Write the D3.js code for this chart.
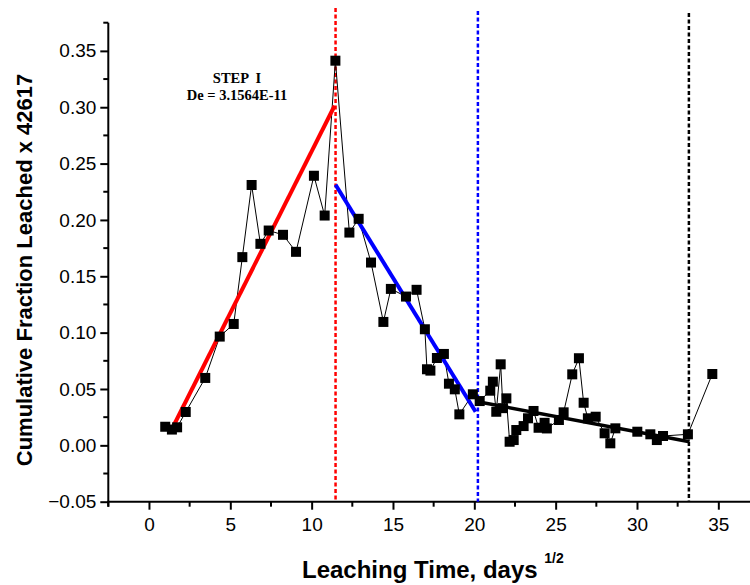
<!DOCTYPE html>
<html>
<head>
<meta charset="utf-8">
<script src="https://cdn.jsdelivr.net/npm/d3@7/dist/d3.min.js"></script>
<style>
  body { margin: 0; background: #fff; }
  svg { display: block; }
  .tick text { font-family: Arial, "Liberation Sans", sans-serif; }
</style>
</head>
<body>
<svg id="chart" width="750" height="585"></svg>
<script>
// leaching time (days^1/2) and cumulative fraction leached
const leachTime = [1.0, 1.41, 1.73, 2.26, 3.46, 4.35, 5.21, 5.74, 6.31, 6.85, 7.36, 8.24, 9.04,
  10.14, 10.8, 11.46, 12.32, 12.89, 13.65, 14.41, 14.87, 15.8, 16.45, 16.96, 17.09, 17.3, 17.7,
  18.13, 18.44, 18.8, 19.08, 19.91, 20.33, 20.98, 21.14, 21.35, 21.62, 21.76, 21.97, 22.17, 22.42,
  22.58, 23.03, 23.3, 23.64, 23.95, 24.32, 24.46, 25.2, 25.49, 26.02, 26.43, 26.72, 26.98, 27.46,
  28.01, 28.36, 28.67, 30.02, 30.82, 31.22, 31.6, 33.13, 34.63];
const fracLeached = [0.0165, 0.014, 0.016, 0.0296, 0.0598, 0.0965, 0.1077, 0.167, 0.231, 0.1788,
  0.1906, 0.1868, 0.1717, 0.2392, 0.2039, 0.3413, 0.1888, 0.201, 0.1622, 0.1095, 0.1388, 0.132,
  0.138, 0.103, 0.0675, 0.0663, 0.0775, 0.0811, 0.0547, 0.0497, 0.0275, 0.0453, 0.0393, 0.0485,
  0.0565, 0.0298, 0.0719, 0.033, 0.0417, 0.0032, 0.0047, 0.0136, 0.0171, 0.024, 0.0305, 0.0156,
  0.02, 0.015, 0.0225, 0.0293, 0.063, 0.0773, 0.0378, 0.024, 0.0254, 0.0107, 0.0018, 0.0151,
  0.0121, 0.0098, 0.0047, 0.0083, 0.0098, 0.0633];

// linear fits for each step: [x0, y0, x1, y1]
const fitStep1 = [1.38, 0.0136, 11.41, 0.3013];
const fitStep2 = [11.47, 0.2312, 20.08, 0.0298];
const fitStep3 = [20.22, 0.0387, 33.23, 0.0032];

// step boundaries
const stepBounds = [11.47, 20.22, 33.19];
const stepColors = ["#ff0000", "#0000ff", "#000000"];

const xTicks = [0, 5, 10, 15, 20, 25, 30, 35];
const yTicks = [-0.05, 0.00, 0.05, 0.10, 0.15, 0.20, 0.25, 0.30, 0.35];

const svg = d3.select('#chart');

const x = d3.scaleLinear().domain([-2.5, 37.5]).range([108.3, 759]);
const y = d3.scaleLinear().domain([-0.05, 0.375]).range([501.7, 22.7]);

svg.append('rect').attr('width', 750).attr('height', 585).attr('fill', '#fff');

// axes
const xAxis = svg.append('g')
  .attr('transform', `translate(0, ${y(-0.05)})`)
  .call(d3.axisBottom(x).tickValues(xTicks).tickSize(8).tickPadding(5).tickFormat(d3.format('d')));
xAxis.append('g').selectAll('line')
  .data(d3.range(-2.5, 38, 5))
  .join('line')
  .attr('x1', d => x(d)).attr('x2', d => x(d))
  .attr('y1', 0).attr('y2', 5)
  .attr('stroke', '#000').attr('stroke-width', 2);

const yAxis = svg.append('g')
  .attr('transform', `translate(${x(-2.5)}, 0)`)
  .call(d3.axisLeft(y).tickValues(yTicks).tickSize(8).tickPadding(4).tickFormat(d3.format('.2f')));
yAxis.append('g').selectAll('line')
  .data(d3.range(-0.025, 0.38, 0.05))
  .join('line')
  .attr('y1', d => y(d)).attr('y2', d => y(d))
  .attr('x1', 0).attr('x2', -5)
  .attr('stroke', '#000').attr('stroke-width', 2);

[xAxis, yAxis].forEach(a => {
  a.select('.domain').attr('stroke-width', 2).attr('d', null);
  a.selectAll('.tick line').attr('stroke-width', 2);
  a.selectAll('.tick text').attr('font-size', 19).attr('fill', '#000');
});
xAxis.append('line').attr('x1', x(-2.5) - 1).attr('x2', 750).attr('y1', 0).attr('y2', 0)
  .attr('stroke', '#000').attr('stroke-width', 2);
yAxis.append('line').attr('x1', 0).attr('x2', 0).attr('y1', y(0.375)).attr('y2', y(-0.05) + 5)
  .attr('stroke', '#000').attr('stroke-width', 2);
xAxis.selectAll('.tick text').attr('dy', '0.85em');

// vertical dashed boundaries
svg.append('g').selectAll('line')
  .data(stepBounds)
  .join('line')
  .attr('x1', d => x(d)).attr('x2', d => x(d))
  .attr('y1', (d, i) => [8, 11, 13][i]).attr('y2', y(-0.05))
  .attr('stroke', (d, i) => stepColors[i])
  .attr('stroke-width', 2.5)
  .attr('stroke-dasharray', '4,2.5');

// data line + markers
const pts = leachTime.map((t, i) => [t, fracLeached[i]]);
const line = d3.line().x(d => x(d[0])).y(d => y(d[1]));

svg.append('path')
  .datum(pts)
  .attr('d', line)
  .attr('fill', 'none')
  .attr('stroke', '#000')
  .attr('stroke-width', 1);

// fitted lines
svg.append('g').selectAll('line')
  .data([fitStep1, fitStep2, fitStep3])
  .join('line')
  .attr('x1', d => x(d[0])).attr('y1', d => y(d[1]))
  .attr('x2', d => x(d[2])).attr('y2', d => y(d[3]))
  .attr('stroke', (d, i) => stepColors[i])
  .attr('stroke-width', (d, i) => i < 2 ? 4 : 3.5);

svg.append('g').selectAll('rect')
  .data(pts)
  .join('rect')
  .attr('x', d => x(d[0]) - 5)
  .attr('y', d => y(d[1]) - 5)
  .attr('width', 10).attr('height', 10)
  .attr('fill', '#000');

// annotation (two separate lines)
const noteFont = '"Liberation Serif", "Times New Roman", serif';
svg.append('text')
  .attr('x', 237).attr('y', 83)
  .attr('font-family', noteFont).attr('font-weight', 'bold').attr('font-size', 14.5)
  .attr('text-anchor', 'middle')
  .attr('xml:space', 'preserve')
  .text('STEP  I');
svg.append('text')
  .attr('x', 237).attr('y', 100)
  .attr('font-family', noteFont).attr('font-weight', 'bold').attr('font-size', 14.5)
  .attr('text-anchor', 'middle')
  .text('De = 3.1564E-11');

// axis titles
const xTitle = svg.append('text')
  .attr('x', 302).attr('y', 578)
  .attr('font-family', 'Arial, "Liberation Sans", sans-serif')
  .attr('font-weight', 'bold')
  .attr('font-size', 24);
xTitle.append('tspan').text('Leaching Time, days ');
xTitle.append('tspan').attr('font-size', 14).attr('dy', -15).text('1/2');

svg.append('text')
  .attr('transform', 'translate(32, 270) rotate(-90)')
  .attr('text-anchor', 'middle')
  .attr('font-family', 'Arial, "Liberation Sans", sans-serif')
  .attr('font-weight', 'bold')
  .attr('font-size', 22)
  .text('Cumulative Fraction Leached x 42617');
</script>
</body>
</html>
